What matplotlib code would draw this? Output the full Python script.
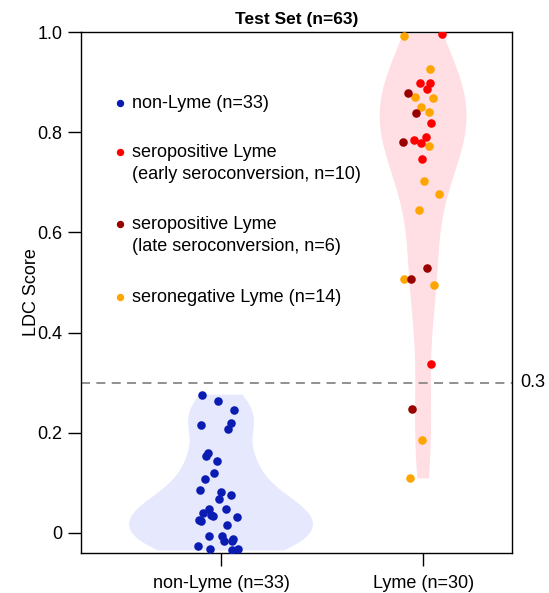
import matplotlib
matplotlib.use("Agg")
import matplotlib.pyplot as plt
import numpy as np

plt.rcParams['font.family'] = ['Liberation Sans', 'DejaVu Sans']

# LDC scores, with the horizontal jitter of each dot
non_lyme = [0.276, 0.263, 0.245, 0.215, 0.219, 0.208, 0.160, 0.154, 0.143, 0.119,
            0.108, 0.086, 0.081, 0.076, 0.067, 0.047, 0.047, 0.039, 0.033, 0.036,
            0.026, 0.023, 0.031, 0.015, -0.006, -0.007, -0.013, -0.017, -0.016,
            -0.026, -0.033, -0.035, -0.033]
non_lyme_jit = [-0.094, -0.013, 0.066, -0.100, 0.050, 0.033, -0.066, -0.076, -0.021, -0.035,
                -0.081, -0.104, 0.001, 0.050, -0.010, -0.059, 0.025, -0.089, -0.041, -0.051,
                -0.110, -0.100, 0.081, 0.028, -0.058, 0.006, 0.061, 0.015, 0.056,
                -0.112, -0.053, 0.054, 0.086]

early_pos = [0.996, 0.898, 0.898, 0.886, 0.818, 0.790, 0.785, 0.778, 0.746, 0.338]
early_jit = [0.094, -0.013, 0.033, 0.020, 0.038, 0.015, -0.045, -0.010, -0.005, 0.040]

late_pos = [0.878, 0.838, 0.780, 0.528, 0.507, 0.248]
late_jit = [-0.073, -0.036, -0.100, 0.021, -0.059, -0.056]

seroneg = [0.992, 0.926, 0.870, 0.868, 0.850, 0.840, 0.772, 0.702, 0.676, 0.644,
           0.507, 0.494, 0.185, 0.109]
seroneg_jit = [-0.094, 0.036, -0.038, 0.048, -0.010, 0.031, 0.031, 0.006, 0.079, -0.021,
               -0.096, 0.053, -0.006, -0.063]

categories = ["non-Lyme (n=33)", "Lyme (n=30)"]
legend_labels = [["non-Lyme (n=33)"],
                 ["seropositive Lyme", "(early seroconversion, n=10)"],
                 ["seropositive Lyme", "(late seroconversion, n=6)"],
                 ["seronegative Lyme (n=14)"]]
threshold = 0.3

c_blue, c_red, c_dark, c_orange = "#0b1cb3", "#ff0000", "#990000", "#ffa500"
fs = 13

fig = plt.figure(figsize=(5.49, 5.93), dpi=100)
ax = fig.add_axes([0.1475, 0.0675, 0.7851, 0.8785])

lyme = early_pos + late_pos + seroneg
# two calls so each violin gets its own smoothing
for data, pos, w, bw, fc in [(non_lyme, 1, 0.91, 0.38, "#e6e9fd"),
                             (lyme, 2, 0.43, 0.42, "#ffdee4")]:
    parts = ax.violinplot([data], positions=[pos], widths=[w],
                          showextrema=False, bw_method=bw)
    for body in parts['bodies']:
        body.set_facecolor(fc)
        body.set_edgecolor('none')
        body.set_alpha(1)

ax.axhline(threshold, color="#888888", lw=1.3, ls=(0, (5, 3.5)), zorder=1)
ax.text(1.02, threshold, "0.3", transform=ax.get_yaxis_transform(),
        ha='left', va='center', fontsize=fs)

ms = 38
ax.scatter(1 + np.array(non_lyme_jit), non_lyme, s=ms, color=c_blue, lw=0, zorder=3)
ax.scatter(2 + np.array(seroneg_jit), seroneg, s=ms, color=c_orange, lw=0, zorder=3)
ax.scatter(2 + np.array(early_jit), early_pos, s=ms, color=c_red, lw=0, zorder=3)
ax.scatter(2 + np.array(late_jit), late_pos, s=ms, color=c_dark, lw=0, zorder=3)

# legend drawn by hand so the dot sits on the first line of each label
leg_y = [0.863, 0.769, 0.631, 0.491]
line_step = 0.0425
for y, lines, c in zip(leg_y, legend_labels, [c_blue, c_red, c_dark, c_orange]):
    ax.plot(0.0905, y, 'o', ms=4.3, color=c, transform=ax.transAxes)
    for k, line in enumerate(lines):
        ax.text(0.118, y - k * line_step, line, transform=ax.transAxes,
                ha='left', va='center', fontsize=fs)

ax.set_xlim(0.307, 2.44)
ax.set_ylim(-0.04, 1.0)
ax.set_xticks([1, 2])
ax.set_xticklabels(categories, fontsize=fs)
ax.set_yticks([0, 0.2, 0.4, 0.6, 0.8, 1.0])
ax.set_yticklabels(["0", "0.2", "0.4", "0.6", "0.8", "1.0"], fontsize=fs)
ax.tick_params(length=9.5, width=1, pad=4)
ax.tick_params(axis='x', pad=6)
for s in ax.spines.values():
    s.set_linewidth(1)
ax.set_ylabel("LDC Score", fontsize=fs, labelpad=-2)
ax.set_title("Test Set (n=63)", fontsize=12.5, fontweight='bold', pad=6)

fig.savefig("out.png", dpi=100)
